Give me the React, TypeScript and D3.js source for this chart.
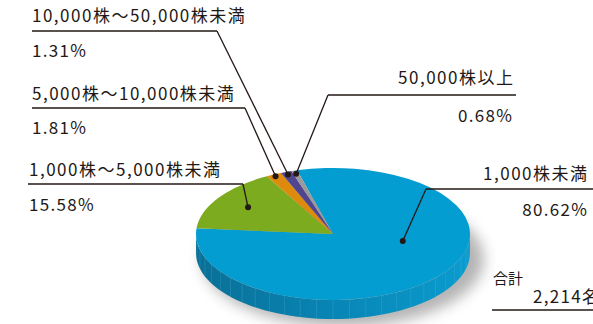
import React from "react";
import * as d3 from "d3";

const categories = ["1,000株未満", "1,000株～5,000株未満", "5,000株～10,000株未満", "10,000株～50,000株未満", "50,000株以上"];
const percents = [80.62, 15.58, 1.81, 1.31, 0.68];
const percentLabels = ["80.62%", "15.58%", "1.81%", "1.31%", "0.68%"];
const colors = ["#039dd1", "#7cab1f", "#de8a0c", "#50458f", "#9a9a9a"];
const totalLabel = "合計";
const totalValue = "2,214名";

const W = 593, H = 324;
const cx = 333, cy = 234, rx = 137, ry = 66, depth = 19;
const startDeg = -15.2;
const FONT = "'Noto Sans CJK JP', 'Noto Sans', sans-serif";
const INK = "#231815";
const LS = 1.5;
const PS = 1.3;

// label layout: text anchor position, underline, dot angle offset / radius fraction
const labelLayout = [
  { tx: 587 + LS, ty: 180, anchor: "end", lx1: 426, lx2: 593, ly: 189, px: 587 + PS, py: 216, dotT: 11.7, dotR: 0.52 },
  { tx: 29, ty: 176, anchor: "start", lx1: 28, lx2: 243, ly: 184, px: 29, py: 211, dotT: null, dotR: 0.74 },
  { tx: 32, ty: 100, anchor: "start", lx1: 32, lx2: 245, ly: 108, px: 32, py: 134, dotT: null, dotR: 0.97 },
  { tx: 32, ty: 22, anchor: "start", lx1: 32, lx2: 217, ly: 31, px: 32, py: 57, dotT: null, dotR: 0.96 },
  { tx: 513 + LS, ty: 84, anchor: "end", lx1: 328, lx2: 516, ly: 95, px: 512 + PS, py: 122, dotT: null, dotR: 0.95 },
];

export default function App() {
  const pie = d3
    .pie<number>()
    .sort(null)
    .value((d) => d)
    .startAngle((startDeg * Math.PI) / 180)
    .endAngle((startDeg * Math.PI) / 180 + 2 * Math.PI);
  const arcs = pie(percents);
  const arc = d3.arc<d3.PieArcDatum<number>>().innerRadius(0).outerRadius(rx);
  const sy = ry / rx;

  const toT = (a: number) => a - Math.PI / 2;
  const pt = (t: number, f = 1) => [cx + rx * f * Math.cos(t), cy + ry * f * Math.sin(t)];

  const sides: { d: string; color: string; i: number }[] = [];
  arcs.forEach((a, i) => {
    const t0 = toT(a.startAngle);
    const t1 = toT(a.endAngle);
    for (const shift of [-2 * Math.PI, 0, 2 * Math.PI]) {
      const s = Math.max(t0 + shift, 0);
      const e = Math.min(t1 + shift, Math.PI);
      if (e > s) {
        const p = d3.path();
        const n = 60;
        for (let k = 0; k <= n; k++) {
          const t = s + ((e - s) * k) / n;
          const [x, y] = pt(t);
          if (k === 0) p.moveTo(x, y);
          else p.lineTo(x, y);
        }
        for (let k = n; k >= 0; k--) {
          const t = s + ((e - s) * k) / n;
          const [x, y] = pt(t);
          p.lineTo(x, y + depth);
        }
        p.closePath();
        sides.push({ d: p.toString(), color: colors[i], i });
      }
    }
  });

  const facetLines: number[][] = [];
  const nF = 26;
  for (let k = 1; k < nF; k++) {
    const t = (Math.PI * k) / nF;
    const [x, y] = pt(t);
    facetLines.push([x, y, x, y + depth]);
  }

  return (
    <svg
      width={W}
      height={H}
      style={{ position: "absolute", left: 0, top: 0, background: "#fff" }}
      fontFamily={FONT}
    >
      <defs>
        <filter id="blur" x="-30%" y="-30%" width="160%" height="160%">
          <feGaussianBlur stdDeviation="7" />
        </filter>
        <linearGradient id="sideGrad" x1="0" x2="1" y1="0" y2="0">
          <stop offset="0" stopColor="#0a6f96" />
          <stop offset="0.45" stopColor="#0883b2" />
          <stop offset="1" stopColor="#0a9ccf" />
        </linearGradient>
      </defs>
      <ellipse
        cx={cx + 10}
        cy={cy + depth + 6}
        rx={rx + 4}
        ry={ry + 2}
        fill="#777"
        opacity={0.55}
        filter="url(#blur)"
      />
      {sides.map((s, k) => (
        <path key={k} d={s.d} fill={s.i === 0 ? "url(#sideGrad)" : d3.color(s.color)!.darker(0.6).toString()} />
      ))}
      {facetLines.map((l, k) => (
        <line key={k} x1={l[0]} y1={l[1]} x2={l[2]} y2={l[3]} stroke="#5fb6d6" strokeWidth={0.5} opacity={0.5} />
      ))}
      <g transform={`translate(${cx},${cy}) scale(1,${sy})`}>
        {arcs.map((a, i) => (
          <path key={i} d={arc(a) || ""} fill={colors[i]} />
        ))}
      </g>
      {arcs.map((a, i) => {
        const L = labelLayout[i];
        const tm = L.dotT !== null ? (L.dotT * Math.PI) / 180 : toT((a.startAngle + a.endAngle) / 2);
        const [dx, dy] = pt(tm, L.dotR);
        const jx = L.anchor === "end" ? L.lx1 : L.lx2;
        return (
          <g key={i} fill={INK}>
            <text x={L.tx} y={L.ty} fontSize={17} textAnchor={L.anchor as any} letterSpacing={LS}>
              {categories[i]}
            </text>
            <line x1={L.lx1} x2={L.lx2} y1={L.ly} y2={L.ly} stroke={INK} strokeWidth={1.3} />
            <polyline points={`${jx},${L.ly} ${dx},${dy}`} fill="none" stroke={INK} strokeWidth={1.3} />
            <circle cx={dx} cy={dy} r={3} fill={INK} />
            <text x={L.px} y={L.py} fontSize={17} textAnchor={L.anchor as any} letterSpacing={PS}>
              {percentLabels[i]}
            </text>
          </g>
        );
      })}
      <text x={493} y={284} fontSize={15} fill={INK}>
        {totalLabel}
      </text>
      <text x={533} y={303} fontSize={17} fill={INK} letterSpacing={PS}>
        {totalValue}
      </text>
      <line x1={492} x2={593} y1={310} y2={310} stroke={INK} strokeWidth={1.3} />
    </svg>
  );
}
